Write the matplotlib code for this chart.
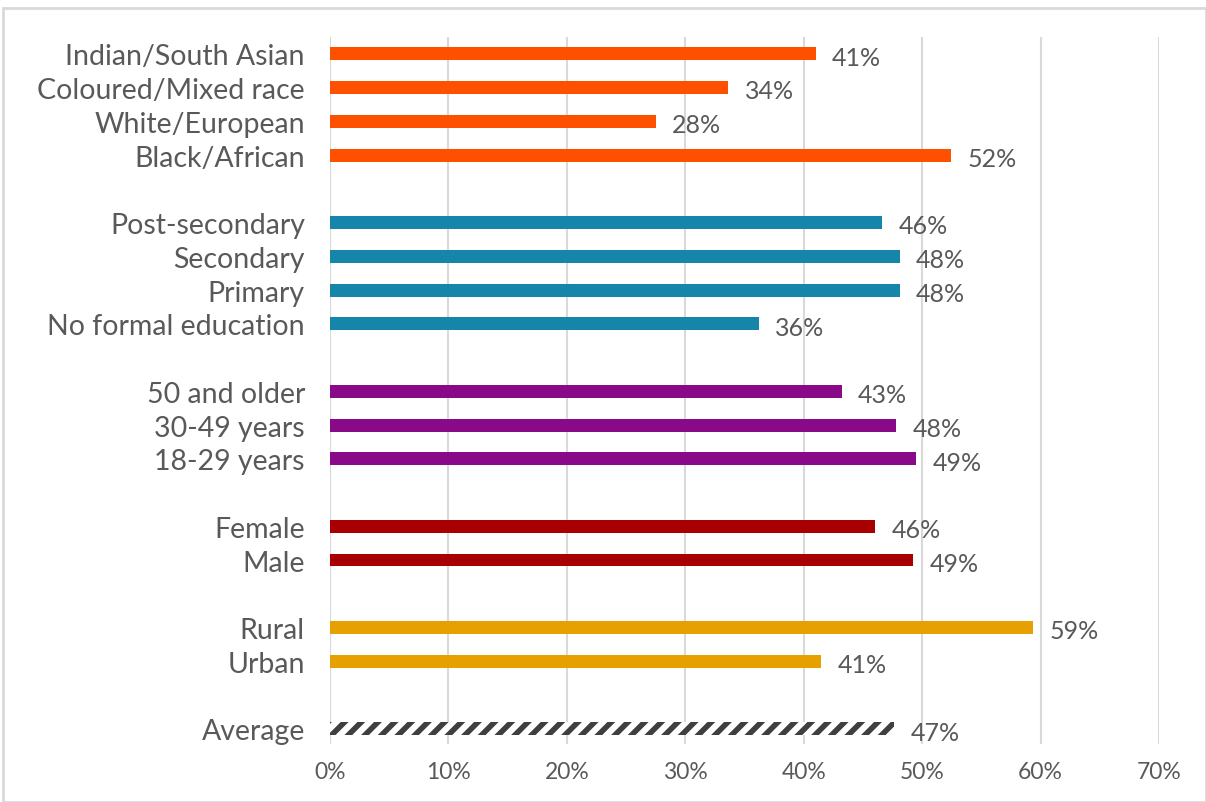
import matplotlib
matplotlib.use("Agg")
import matplotlib.pyplot as plt
from matplotlib.patches import Rectangle

categories = ["Indian/South Asian", "Coloured/Mixed race", "White/European", "Black/African",
              "Post-secondary", "Secondary", "Primary", "No formal education",
              "50 and older", "30-49 years", "18-29 years",
              "Female", "Male",
              "Rural", "Urban",
              "Average"]
values = [41.0, 33.6, 27.5, 52.4,
          46.6, 48.1, 48.1, 36.2,
          43.2, 47.8, 49.5,
          46.0, 49.2,
          59.4, 41.5,
          47.6]
labels = ["41%", "34%", "28%", "52%",
          "46%", "48%", "48%", "36%",
          "43%", "48%", "49%",
          "46%", "49%",
          "59%", "41%",
          "47%"]
group_sizes = [4, 4, 3, 2, 2, 1]
group_colors = ["#FF5000", "#1586A9", "#890A88", "#A80000", "#E6A100", None]
xticks = [0, 10, 20, 30, 40, 50, 60, 70]
xtick_labels = ["0%", "10%", "20%", "30%", "40%", "50%", "60%", "70%"]

plt.rcParams['font.family'] = ['Lato', 'DejaVu Sans']
plt.rcParams['hatch.linewidth'] = 4

fig = plt.figure(figsize=(12.06, 8.03), dpi=100)
ax = fig.add_axes([330/1206, 1-745/803, (1159-330)/1206, (745-38)/803])

positions = []
colors = []
slot = 0
for gi, n in enumerate(group_sizes):
    for k in range(n):
        positions.append(slot)
        colors.append(group_colors[gi])
        slot += 1
    slot += 1

text_color = "#595959"
for pos, v, c, lab in zip(positions, values, colors, labels):
    if c is None:
        ax.barh(pos, v, height=0.38, color="white", edgecolor="#3F3F3F",
                hatch="//", linewidth=0, zorder=3)
    else:
        ax.barh(pos, v, height=0.38, color=c, zorder=3)
    ax.text(v + 1.4, pos + 0.1, lab, va="center", ha="left", fontsize=18,
            color=text_color)

ax.set_yticks(positions)
ax.set_yticklabels(categories, fontsize=20.5, color=text_color)
ax.set_ylim(20.45, -0.5)
ax.set_xlim(0, 70)
ax.set_xticks(xticks)
ax.set_xticklabels(xtick_labels, fontsize=16.5, color=text_color)
ax.tick_params(axis="both", length=0)
ax.tick_params(axis="y", pad=18)
ax.tick_params(axis="x", pad=12)
ax.grid(axis="x", color="#D9D9D9", linewidth=1.5, zorder=0)
ax.set_axisbelow(True)
for s in ax.spines.values():
    s.set_visible(False)

fig.patches.append(Rectangle((3/1206, 0), 1 - 3/1206, 1 - 9/803, transform=fig.transFigure,
                             fill=False, edgecolor="#D9D9D9", linewidth=2))

fig.savefig("out.png", dpi=100)
